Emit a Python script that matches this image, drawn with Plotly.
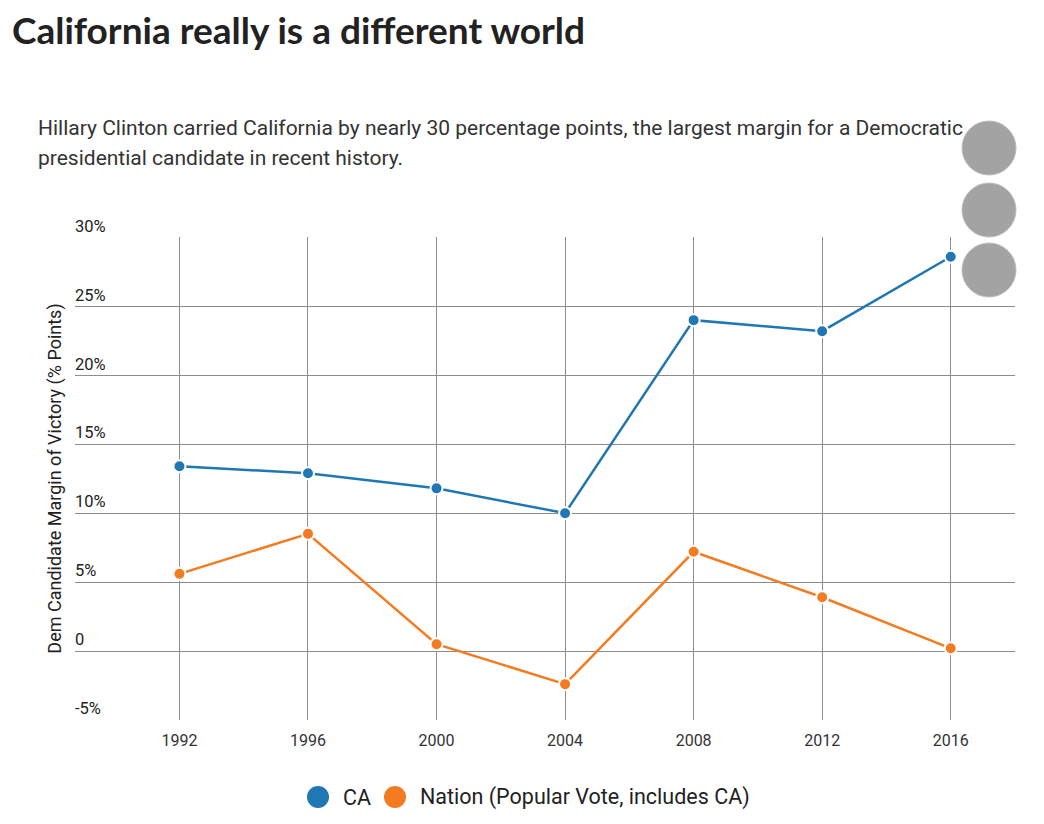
import plotly.graph_objects as go

# donnees
years = [1992, 1996, 2000, 2004, 2008, 2012, 2016]
ca_margin = [13.4, 12.9, 11.8, 10.0, 24.0, 23.2, 28.6]
nation_margin = [5.6, 8.5, 0.5, -2.4, 7.2, 3.9, 0.2]

y_ticks = [-5, 0, 5, 10, 15, 20, 25, 30]
y_labels = ["-5%", "0", "5%", "10%", "15%", "20%", "25%", "30%"]

series_names = ["CA", "Nation (Popular Vote, includes CA)"]
blue = "#1f77b4"
orange = "#f47b20"

# la page a une marge de 8px autour du graphique
OFF = 8
W, H = 1044 - OFF, 824 - OFF
L, R, T, B = 75 - OFF, 29, 237 - OFF, 104
plot_w = W - L - R
plot_h = H - T - B


# passage pixels de l'ecran -> coordonnees papier
def px(x):
    return (x - OFF - L) / plot_w


def py(y):
    return (H - B - (y - OFF)) / plot_h


fig = go.Figure()

fig.add_trace(go.Scatter(
    x=years, y=ca_margin, name=series_names[0], mode="lines+markers",
    line=dict(color=blue, width=2.5),
    marker=dict(size=12, color=blue, line=dict(color="white", width=2)),
    showlegend=False,
))
fig.add_trace(go.Scatter(
    x=years, y=nation_margin, name=series_names[1], mode="lines+markers",
    line=dict(color=orange, width=2.5),
    marker=dict(size=12, color=orange, line=dict(color="white", width=2)),
    showlegend=False,
))

fig.update_xaxes(
    range=[1988.75, 2018], tickvals=years, showgrid=True, gridcolor="#8c8c8c",
    gridwidth=1.2, zeroline=False, showline=False, ticks="",
    ticklabelstandoff=9,
    tickfont=dict(family="Roboto", size=16, color="#333"),
)
fig.update_yaxes(
    range=[-5, 30.03], tickvals=y_ticks, ticktext=y_labels, showgrid=True,
    gridcolor="#8c8c8c", gridwidth=1.2, zeroline=False, showline=False, ticks="",
    ticklabelposition="inside top", ticklabeloverflow="allow",
    ticklabelstandoff=-3,
    tickfont=dict(family="Roboto", size=16.5, color="#222"),
    title=dict(text="Dem Candidate Margin of Victory (% Points)",
               font=dict(family="Roboto", size=18, color="#222"), standoff=8),
)

annotations = [
    dict(text="California really is a different world", x=px(10), y=py(30),
         xanchor="left", yanchor="middle",
         font=dict(family="Lato", size=37, color="#222", weight="bold")),
    dict(text="Hillary Clinton carried California by nearly 30 percentage points, the largest margin for a Democratic",
         x=px(36), y=py(128), xanchor="left", yanchor="middle",
         font=dict(family="Roboto", size=21, color="#333")),
    dict(text="presidential candidate in recent history.",
         x=px(36), y=py(158), xanchor="left", yanchor="middle",
         font=dict(family="Roboto", size=21, color="#333")),
    dict(text=series_names[0], x=px(341), y=py(797), xanchor="left", yanchor="middle",
         font=dict(family="Roboto", size=21.5, color="#222")),
    dict(text=series_names[1], x=px(418), y=py(797), xanchor="left", yanchor="middle",
         font=dict(family="Roboto", size=21.5, color="#222")),
]
for a in annotations:
    a.update(xref="paper", yref="paper", showarrow=False)

shapes = []
# pastilles de legende
for cx, col in [(318, blue), (395, orange)]:
    shapes.append(dict(type="circle", xref="paper", yref="paper",
                       xsizemode="pixel", ysizemode="pixel",
                       xanchor=px(cx), yanchor=py(797),
                       x0=-11, x1=11, y0=-11, y1=11,
                       fillcolor=col, line=dict(width=0)))
# boutons gris en haut a droite
for cy in [148, 210, 270]:
    shapes.append(dict(type="circle", xref="paper", yref="paper",
                       xsizemode="pixel", ysizemode="pixel",
                       xanchor=px(989), yanchor=py(cy),
                       x0=-27, x1=27, y0=-27, y1=27,
                       fillcolor="#a3a3a3", line=dict(color="#bdbdbd", width=1)))

fig.update_layout(
    width=W, height=H,
    margin=dict(l=L, r=R, t=T, b=B),
    plot_bgcolor="white", paper_bgcolor="white",
    annotations=annotations, shapes=shapes,
    font=dict(family="Roboto"),
)

fig.write_html("out.html")
